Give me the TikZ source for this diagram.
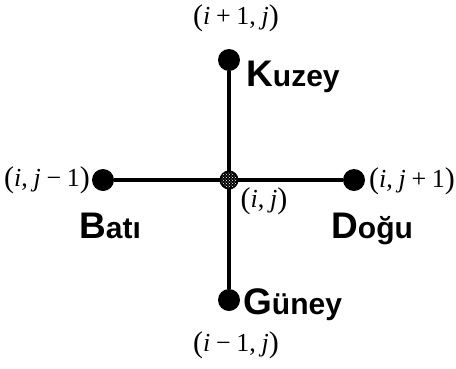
\documentclass[tikz,border=0pt]{standalone}
\usepackage{fontspec}
\setmainfont{Liberation Serif}
\newfontfamily\sfb{Liberation Sans}
\usetikzlibrary{patterns}
\tikzset{
  edge/.style={line width=3.5pt},
  pt/.style={circle,fill=black,inner sep=0pt,minimum size=22pt},
  coord/.style={font=\fontsize{26}{28}\selectfont,inner sep=0pt},
  dirl/.style={font=\sfb\bfseries\fontsize{30}{32}\selectfont,inner sep=0pt,anchor=base west},
}
\newcommand{\initl}[1]{{\fontsize{37}{39}\selectfont #1}}
\newcommand{\lpar}{{\fontsize{30}{30}\selectfont\raisebox{-0.5pt}{(}}}
\newcommand{\rpar}{{\fontsize{30}{30}\selectfont\raisebox{-0.5pt}{)}}}
\newcommand{\opsp}{\hspace{0.22em}}
\begin{document}
\begin{tikzpicture}[x=1pt,y=-1pt]
\useasboundingbox (0,0) rectangle (456,368);
\node[pt] (n) at (229,60) {};
\node[pt] (s) at (229,300) {};
\node[pt] (w) at (103,180) {};
\node[pt] (e) at (354,180) {};
\coordinate (c) at (229,180);
\draw[edge] (n) -- (s);
\draw[edge] (w) -- (e);
\fill[black] (c) circle (9.5pt);
\fill[pattern=crosshatch dots,pattern color=white] (c) circle (8pt);
\node[coord] (ln) at (236,18) {\lpar\textit{i}\opsp+\opsp1,\opsp\textit{j}\rpar};
\node[coord] (ls) at (236,345) {\lpar\textit{i}\opsp−\opsp1,\opsp\textit{j}\rpar};
\node[coord] (lw) at (47,180) {\lpar\textit{i},\opsp\textit{j}\opsp−\opsp1\rpar};
\node[coord] (le) at (412,181) {\lpar\textit{i},\opsp\textit{j}\opsp+\opsp1\rpar};
\node[coord] (lc) at (264,201) {\lpar\textit{i},\opsp\textit{j}\rpar};
\node[dirl] (kn) at (246,86) {\initl{K}uzey};
\node[dirl] (kw) at (79,238) {\initl{B}atı};
\node[dirl] (ke) at (331,238) {\initl{D}oğu};
\node[dirl] (ks) at (243,314) {\initl{G}üney};
\end{tikzpicture}
\end{document}
